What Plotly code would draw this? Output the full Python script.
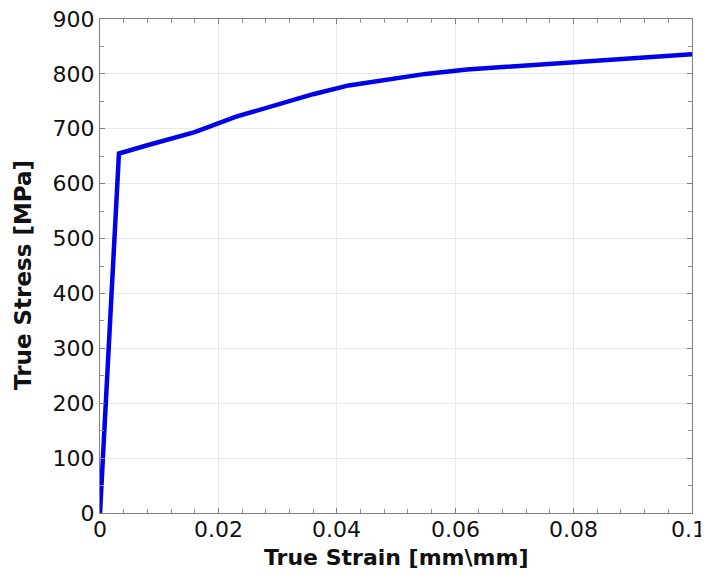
import plotly.graph_objects as go

strain = [0.0, 0.0032, 0.008, 0.016, 0.023, 0.030, 0.036, 0.042, 0.050, 0.055, 0.062, 0.070, 0.080, 0.090, 0.100]
stress = [0.0, 655, 670, 694, 722, 745, 763, 779, 792, 800, 808, 814, 821, 829, 836]

x_ticks = [0, 0.02, 0.04, 0.06, 0.08, 0.1]
x_tick_text = ["0", "0.02", "0.04", "0.06", "0.08", "0.1"]
y_ticks = [0, 100, 200, 300, 400, 500, 600, 700, 800, 900]
x_title = "True Strain [mm\\mm]"
y_title = "True Stress [MPa]"

FONT = "DejaVu Sans"

fig = go.Figure()
fig.add_trace(go.Scatter(x=strain, y=stress, mode="lines",
                         line=dict(color="#0000ea", width=4.5), showlegend=False))

axis_common = dict(
    showline=True, linecolor="#808080", linewidth=1, mirror="ticks",
    ticks="inside", ticklen=5, tickcolor="#808080", tickwidth=1,
    showgrid=True, gridcolor="#e8e8e8", gridwidth=1, zeroline=False,
    tickfont=dict(family=FONT, size=22, color="#111111"),
    automargin=False, ticklabeloverflow="allow",
)

fig.update_xaxes(range=[0, 0.1], tickvals=x_ticks, showticklabels=False,
                 minor=dict(dtick=0.004, ticks="inside", ticklen=4, tickcolor="#909090", showgrid=False),
                 **axis_common)
fig.update_yaxes(range=[0, 900], tickvals=y_ticks,
                 minor=dict(dtick=50, ticks="inside", ticklen=4, tickcolor="#909090", showgrid=False),
                 **axis_common)

# x tick labels as annotations so the last one can stay inside the page (as in the reference)
for i, (v, t) in enumerate(zip(x_ticks, x_tick_text)):
    last = i == len(x_ticks) - 1
    fig.add_annotation(text=t, x=v, xref="x", y=-0.0344, yref="paper",
                       xanchor="right" if last else "center", yanchor="middle",
                       xshift=16 if last else 0, showarrow=False,
                       font=dict(family=FONT, size=22, color="#111111"))

fig.add_annotation(text="<b>" + x_title + "</b>", xref="paper", yref="paper",
                   x=0.5, y=-0.090, xanchor="center", yanchor="middle", showarrow=False,
                   font=dict(family=FONT, size=22, color="#111111"))
fig.add_annotation(text="<b>" + y_title + "</b>", xref="paper", yref="paper",
                   x=-0.130, y=0.482, xanchor="center", yanchor="middle", showarrow=False,
                   textangle=-90, font=dict(family=FONT, size=23, color="#111111"))

# the page adds an 8px body margin, so the figure is sized/offset to compensate
fig.update_layout(width=701, height=570, plot_bgcolor="white", paper_bgcolor="white",
                  margin=dict(l=92, r=17, t=11, b=65, autoexpand=False))
fig.write_html("out.html")
